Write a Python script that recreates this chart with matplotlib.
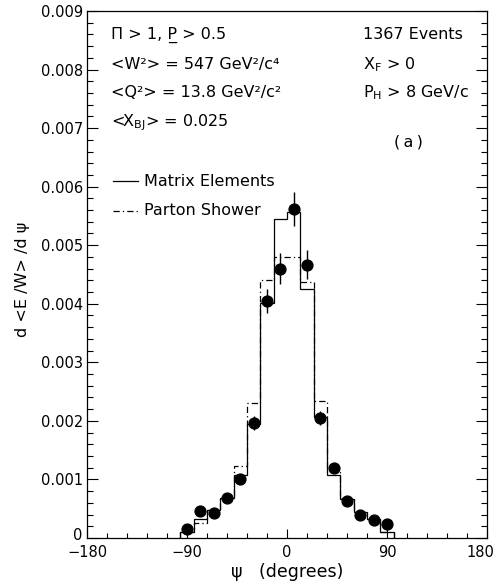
import matplotlib
matplotlib.use("Agg")
import matplotlib.pyplot as plt
from matplotlib.ticker import MultipleLocator, FixedLocator, FuncFormatter
from matplotlib.transforms import ScaledTranslation
import numpy as np

plt.rcParams['font.family'] = ['DejaVu Sans']
plt.rcParams['mathtext.fontset'] = 'dejavusans'
plt.rcParams['mathtext.default'] = 'regular'

# Data
bin_edges = [-96, -84, -72, -60, -48, -36, -24, -12, 0, 12, 24, 36, 48, 60, 72, 84, 96]
matrix_elements = [0.00011, 0.00032, 0.00047, 0.00069, 0.00108, 0.00195, 0.00402, 0.00545,
                   0.00557, 0.00425, 0.00206, 0.00108, 0.00066, 0.00044, 0.00033, 0.00011]
parton_shower = [0.00011, 0.00026, 0.00047, 0.00069, 0.00123, 0.00230, 0.00440, 0.00480,
                 0.00480, 0.00437, 0.00234, 0.00113, 0.00069, 0.00044, 0.00033, 0.00011]
psi = [-90, -78, -66, -54, -42, -30, -18, -6, 6, 18, 30, 42, 54, 66, 78, 90]
data = [0.00015, 0.00046, 0.00043, 0.00069, 0.00100, 0.00197, 0.00405, 0.00460,
        0.00562, 0.00467, 0.00205, 0.00119, 0.00063, 0.00039, 0.00031, 0.00024]
data_err = [0.00005, 0.00006, 0.00006, 0.00007, 0.00008, 0.00012, 0.00021, 0.00026,
            0.00029, 0.00024, 0.00012, 0.00008, 0.00007, 0.00006, 0.00005, 0.00005]
x_ticks = [-180, -90, 0, 90, 180]
y_ticks = [0, 0.001, 0.002, 0.003, 0.004, 0.005, 0.006, 0.007, 0.008, 0.009]

fig = plt.figure(figsize=(4.95, 5.84), dpi=100)
ax = fig.add_axes([0.1758, 0.0788, 0.808, 0.9024])

ax.stairs(matrix_elements, bin_edges, color='black', lw=0.9, baseline=0)
ax.stairs(parton_shower, bin_edges, color='black', lw=0.9, baseline=0,
          linestyle=(0, (5, 2.5, 1, 2.5)))
ax.errorbar(psi, data, yerr=data_err, fmt='o', color='black', ms=7.8,
            elinewidth=1.0, capsize=0)

ax.set_xlim(-180, 180)
ax.set_ylim(0, 0.009)
ax.xaxis.set_major_locator(FixedLocator(x_ticks))
ax.xaxis.set_minor_locator(MultipleLocator(18))
ax.yaxis.set_major_locator(FixedLocator(y_ticks))
ax.yaxis.set_minor_locator(MultipleLocator(0.0002))
ax.yaxis.set_major_formatter(FuncFormatter(lambda v, p: '0' if abs(v) < 1e-9 else f'{v:.3f}'))
ax.xaxis.set_major_formatter(FuncFormatter(lambda v, p: f'{int(round(v))}'.replace('-', '\u2212')))

ax.tick_params(axis='x', which='major', direction='in', length=6.5, width=0.8,
               top=False, labelsize=10.5, pad=5)
ax.tick_params(axis='x', which='minor', direction='in', length=3.6, width=0.8, top=False)
ax.tick_params(axis='y', which='major', direction='in', length=8, width=0.8,
               right=True, labelsize=10.5, pad=3)
ax.tick_params(axis='y', which='minor', direction='in', length=4.3, width=0.8, right=True)
for s in ax.spines.values():
    s.set_linewidth(0.9)

# keep the last x tick label inside the figure
last = ax.xaxis.get_major_ticks(len(x_ticks))[-1]
last.label1.set_horizontalalignment('right')
last.label1.set_transform(last.label1.get_transform() +
                          ScaledTranslation(5 / 72, 0, fig.dpi_scale_trans))
# lift the y "0" label slightly, as in the original
first = ax.yaxis.get_major_ticks(len(y_ticks))[0]
first.label1.set_transform(first.label1.get_transform() +
                           ScaledTranslation(0, 3 / 72, fig.dpi_scale_trans))

ax.set_xlabel('\u03c8   (degrees)', fontsize=12.5, labelpad=2)
ax.set_ylabel('d <E /W> /d \u03c8', fontsize=11.5)
ax.yaxis.set_label_coords(-0.143, 0.491)

fs = 11.5
ax.text(-158, 0.00859, '\u03a0 > 1, P\u0332 > 0.5', fontsize=fs, va='center')
ax.text(-158, 0.00809, '<W\u00b2> = 547 GeV\u00b2/c\u2074', fontsize=fs, va='center')
ax.text(-158, 0.00760, '<Q\u00b2> = 13.8 GeV\u00b2/c\u00b2', fontsize=fs, va='center')
ax.text(-158, 0.00710, r'<X$_{BJ}$> = 0.025', fontsize=fs, va='center')
ax.text(68, 0.00859, '1367 Events', fontsize=fs, va='center')
ax.text(68, 0.00809, r'X$_{F}$ > 0', fontsize=fs, va='center')
ax.text(68, 0.00760, r'P$_{H}$ > 8 GeV/c', fontsize=fs, va='center')
ax.text(96, 0.00676, '(\u2009a\u2009)', fontsize=fs, va='center')

# legend
ax.plot([-157, -134], [0.00609, 0.00609], color='black', lw=0.9)
ax.text(-129, 0.00609, 'Matrix Elements', fontsize=fs, va='center')
ax.plot([-157, -134], [0.00559, 0.00559], color='black', lw=0.9,
        linestyle=(0, (5, 2.5, 1, 2.5)))
ax.text(-129, 0.00559, 'Parton Shower', fontsize=fs, va='center')

fig.savefig('out.png', dpi=100)
